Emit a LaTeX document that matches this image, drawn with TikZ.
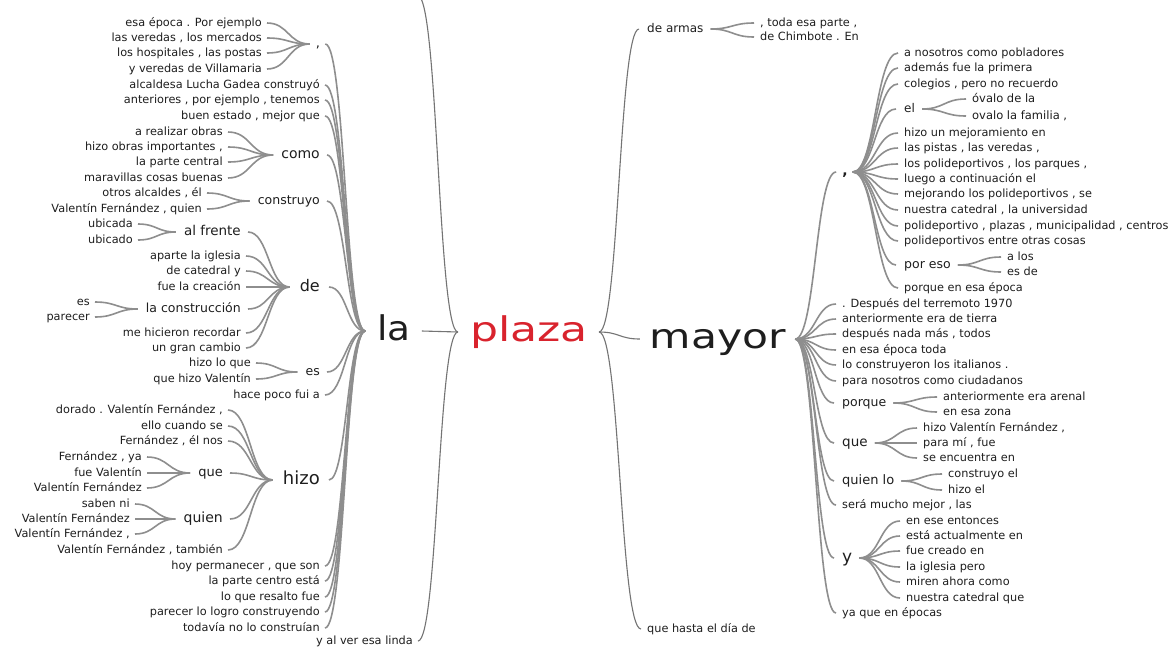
\documentclass[tikz,border=0pt]{standalone}
\usepackage{fontspec}
\setmainfont{DejaVu Sans}
\usetikzlibrary{calc}
\newcommand\fs[1]{\fontsize{#1}{#1}\selectfont}
\newcommand\X[1]{\smash{#1}\vphantom{x}}
\definecolor{tc}{HTML}{1E1E1E}
\definecolor{lc}{HTML}{8E8E8E}
\definecolor{rc}{HTML}{747474}
\definecolor{pr}{HTML}{D9232D}
\tikzset{
  tx/.style={inner sep=0pt, text=tc, font=\fs{11.3}},
  md/.style={inner xsep=2pt},
  link/.style={draw=lc, line width=1.6pt},
  root/.style={draw=rc, line width=1.1pt},
}
\newcommand\LN[5][]{\node[tx,anchor=east,#1] (#2) at (#3,#4) {\X{#5}};}
\newcommand\RN[5][]{\node[tx,anchor=west,#1] (#2) at (#3,#4) {\X{#5}};}
\newcommand\lk[3][link]{\draw[#1] let \p1=([xshift=5pt]#2.east), \p2=([xshift=-6pt]#3.west) in (\p1) .. controls ({(\x1+\x2)/2},\y1) and ({(\x1+\x2)/2},\y2) .. (\p2);}
\begin{document}
\begin{tikzpicture}[x=1pt,y=-1pt]
\useasboundingbox[fill=white] (0,0) rectangle (1176,646);
% ---- root words
\node[tx,font=\fs{34},text=pr,inner xsep=6pt] (plaza) at (529,332) {\X{\scalebox{1.3}[1]{plaza}}};
\node[tx,font=\fs{34},inner xsep=6pt] (la) at (394,331) {\X{\scalebox{1.1}[1]{la}}};
\node[tx,font=\fs{34},inner xsep=4pt] (mayor) at (718,339) {\X{\scalebox{1.25}[1]{mayor}}};
% ---- left side
\LN{ylinda}{413}{641}{y al ver esa linda}
\coordinate (topcut) at (418,-4);
\node[tx,font=\fs{13}] (lcm) at (318,44) {\X{,}};
\LN{a1}{262}{23}{esa época . Por ejemplo}
\LN{a2}{262}{38}{las veredas , los mercados}
\LN{a3}{262}{53}{los hospitales , las postas}
\LN{a4}{262}{69}{y veredas de Villamaria}
\LN{b1}{320}{85}{alcaldesa Lucha Gadea construyó}
\LN{b2}{320}{100}{anteriores , por ejemplo , tenemos}
\LN{b3}{320}{116}{buen estado , mejor que}
\LN[md,font=\fs{14}]{como}{322}{155}{como}
\LN{c1}{223}{132}{a realizar obras}
\LN{c2}{223}{147}{hizo obras importantes ,}
\LN{c3}{223}{162}{la parte central}
\LN{c4}{223}{178}{maravillas cosas buenas}
\LN[md,font=\fs{12.5}]{cons}{322}{201}{construyo}
\LN{d1}{202}{193}{otros alcaldes , él}
\LN{d2}{202}{209}{Valentín Fernández , quien}
\LN[md,font=\fs{16},inner xsep=4pt]{de}{324}{287}{de}
\LN[md,font=\fs{13.5}]{fren}{243}{232}{al frente}
\LN{e1}{133}{224}{ubicada}
\LN{e2}{133}{240}{ubicado}
\LN{f1}{241}{256}{aparte la iglesia}
\LN{f2}{241}{271}{de catedral y}
\LN{f3}{241}{287}{fue la creación}
\LN[md,font=\fs{12.5}]{lcon}{243}{309}{la construcción}
\LN{g1}{90}{302}{es}
\LN{g2}{90}{317}{parecer}
\LN{f4}{241}{333}{me hicieron recordar}
\LN{f5}{241}{348}{un gran cambio}
\LN[md,font=\fs{12.5}]{les}{322}{372}{es}
\LN{h1}{251}{363}{hizo lo que}
\LN{h2}{251}{379}{que hizo Valentín}
\LN{i1}{320}{395}{hace poco fui a}
\LN[md,font=\fs{18},inner xsep=4pt]{hizo}{324}{480}{hizo}
\LN{j1}{223}{410}{dorado . Valentín Fernández ,}
\LN{j2}{223}{426}{ello cuando se}
\LN{j3}{223}{441}{Fernández , él nos}
\LN[md,font=\fs{13}]{lque}{225}{473}{que}
\LN{k1}{142}{457}{Fernández , ya}
\LN{k2}{142}{473}{fue Valentín}
\LN{k3}{142}{488}{Valentín Fernández}
\LN[md,font=\fs{14}]{lquien}{225}{519}{quien}
\LN{m1}{130}{504}{saben ni}
\LN{m2}{130}{519}{Valentín Fernández}
\LN{m3}{130}{534}{Valentín Fernández ,}
\LN{j4}{223}{550}{Valentín Fernández , también}
\LN{n1}{320}{566}{hoy permanecer , que son}
\LN{n2}{320}{581}{la parte centro está}
\LN{n3}{320}{597}{lo que resalto fue}
\LN{n4}{320}{612}{parecer lo logro construyendo}
\LN{n5}{320}{628}{todavía no lo construían}
\foreach \c in {a1,a2,a3,a4} {\lk{\c}{lcm}}
\foreach \c in {lcm,b1,b2,b3,como,cons,de,les,i1,hizo,n1,n2,n3,n4,n5} {\lk{\c}{la}}
\foreach \c in {c1,c2,c3,c4} {\lk{\c}{como}}
\foreach \c in {d1,d2} {\lk{\c}{cons}}
\foreach \c in {fren,f1,f2,f3,lcon,f4,f5} {\lk{\c}{de}}
\foreach \c in {e1,e2} {\lk{\c}{fren}}
\foreach \c in {g1,g2} {\lk{\c}{lcon}}
\foreach \c in {h1,h2} {\lk{\c}{les}}
\foreach \c in {j1,j2,j3,lque,lquien,j4} {\lk{\c}{hizo}}
\foreach \c in {k1,k2,k3} {\lk{\c}{lque}}
\foreach \c in {m1,m2,m3} {\lk{\c}{lquien}}
\lk[root]{la}{plaza}
\lk[root]{ylinda}{plaza}
\draw[root] let \p1=(topcut), \p2=([xshift=-6pt]plaza.west) in (\p1) .. controls ({(\x1+\x2)/2},\y1) and ({(\x1+\x2)/2},\y2) .. (\p2);
% ---- right side
\RN[md,font=\fs{12}]{arm}{645}{29}{de armas}
\RN{r1}{760}{23}{, toda esa parte ,}
\RN{r2}{760}{37}{de Chimbote . En}
\RN{qh}{647}{629}{que hasta el día de}
\node[tx,font=\fs{14}\bfseries] (rcm) at (845,172) {\X{,}};
\RN{s1}{904}{53}{a nosotros como pobladores}
\RN{s2}{904}{68}{además fue la primera}
\RN{s3}{904}{84}{colegios , pero no recuerdo}
\RN[md,font=\fs{12}]{el}{902}{109}{el}
\RN[font=\fs{11.5}]{t1}{972}{99}{óvalo de la}
\RN[font=\fs{11.5}]{t2}{972}{116}{ovalo la familia ,}
\RN{s4}{904}{133}{hizo un mejoramiento en}
\RN{s5}{904}{148}{las pistas , las veredas ,}
\RN{s6}{904}{164}{los polideportivos , los parques ,}
\RN{s7}{904}{179}{luego a continuación el}
\RN{s8}{904}{194}{mejorando los polideportivos , se}
\RN{s9}{904}{210}{nuestra catedral , la universidad}
\RN{s10}{904}{226}{polideportivo , plazas , municipalidad , centros}
\RN{s11}{904}{241}{polideportivos entre otras cosas}
\RN[md,font=\fs{12.5}]{pe}{902}{265}{por eso}
\RN{u1}{1007}{257}{a los}
\RN{u2}{1007}{272}{es de}
\RN{s12}{904}{288}{porque en esa época}
\RN{v1}{842}{304}{. Después del terremoto 1970}
\RN{v2}{842}{319}{anteriormente era de tierra}
\RN{v3}{842}{334}{después nada más , todos}
\RN{v4}{842}{350}{en esa época toda}
\RN{v5}{842}{365}{lo construyeron los italianos .}
\RN{v6}{842}{381}{para nosotros como ciudadanos}
\RN[md,font=\fs{12.5}]{pq}{840}{403}{porque}
\RN{w1}{943}{397}{anteriormente era arenal}
\RN{w2}{943}{412}{en esa zona}
\RN[md,font=\fs{13.5}]{rque}{840}{443}{que}
\RN{x1}{923}{428}{hizo Valentín Fernández ,}
\RN{x2}{923}{443}{para mí , fue}
\RN{x3}{923}{458}{se encuentra en}
\RN[md,font=\fs{13}]{ql}{840}{481}{quien lo}
\RN{y1}{948}{474}{construyo el}
\RN{y2}{948}{490}{hizo el}
\RN{v7}{842}{505}{será mucho mejor , las}
\RN[md,font=\fs{17}]{ry}{840}{558}{y}
\RN{z1}{906}{521}{en ese entonces}
\RN{z2}{906}{536}{está actualmente en}
\RN{z3}{906}{551}{fue creado en}
\RN{z4}{906}{567}{la iglesia pero}
\RN{z5}{906}{582}{miren ahora como}
\RN{z6}{906}{598}{nuestra catedral que}
\RN{v8}{842}{613}{ya que en épocas}
\lk[root]{plaza}{mayor}
\lk[root]{plaza}{arm}
\lk[root]{plaza}{qh}
\foreach \c in {r1,r2} {\lk{arm}{\c}}
\foreach \c in {rcm,v1,v2,v3,v4,v5,v6,pq,rque,ql,v7,ry,v8} {\lk{mayor}{\c}}
\foreach \c in {s1,s2,s3,el,s4,s5,s6,s7,s8,s9,s10,s11,pe,s12} {\lk{rcm}{\c}}
\foreach \c in {t1,t2} {\lk{el}{\c}}
\foreach \c in {u1,u2} {\lk{pe}{\c}}
\foreach \c in {w1,w2} {\lk{pq}{\c}}
\foreach \c in {x1,x2,x3} {\lk{rque}{\c}}
\foreach \c in {y1,y2} {\lk{ql}{\c}}
\foreach \c in {z1,z2,z3,z4,z5,z6} {\lk{ry}{\c}}
\end{tikzpicture}
\end{document}
